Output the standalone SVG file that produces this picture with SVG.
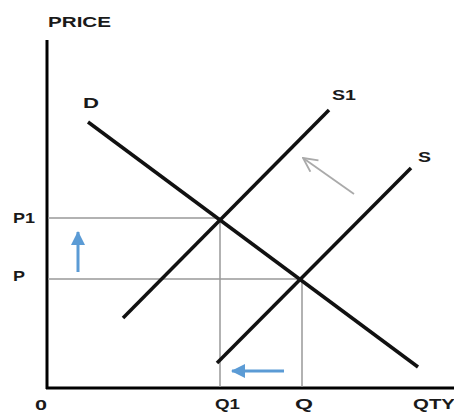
<svg xmlns="http://www.w3.org/2000/svg" width="454" height="414" viewBox="0 0 454 414">
<defs>
<style>
.lbl{font-family:"Liberation Sans",Arial,sans-serif;font-weight:bold;font-size:15px;fill:#1a1a1a;}
.axis{stroke:#000;stroke-width:3;fill:none;}
.curve{stroke:#111;stroke-width:3.5;fill:none;stroke-linecap:butt;}
.guide{stroke:#999;stroke-width:1.5;fill:none;}
.blue{stroke:#5b9bd5;stroke-width:3;fill:none;}
</style>
<marker id="bh" markerWidth="14" markerHeight="14" refX="13" refY="7" orient="auto" markerUnits="userSpaceOnUse" viewBox="0 0 14 14">
<path d="M0,0 L14,7 L0,14 Z" fill="#5b9bd5"/>
</marker>
<marker id="gh" markerWidth="16" markerHeight="16" refX="15" refY="8" orient="auto" markerUnits="userSpaceOnUse" viewBox="0 0 16 16">
<path d="M1,1 L15,8 L1,15" fill="none" stroke="#aaa" stroke-width="1.8"/>
</marker>
</defs>
<rect width="454" height="414" fill="#fff"/>
<g id="axes">
<line class="axis" x1="47" y1="40" x2="47" y2="389"/>
<line class="axis" x1="46" y1="388" x2="454" y2="388"/>
<text class="lbl" x="48" y="27" textLength="63" lengthAdjust="spacingAndGlyphs">PRICE</text>
<text class="lbl" x="35" y="410" textLength="12" lengthAdjust="spacingAndGlyphs">0</text>
<text class="lbl" x="413" y="409" textLength="42" lengthAdjust="spacingAndGlyphs">QTY</text>
</g>
<g id="connectors">
<line class="guide" x1="48" y1="218" x2="220" y2="218"/>
<line class="guide" x1="48" y1="279" x2="300" y2="279"/>
<line class="guide" x1="220" y1="218" x2="220" y2="387"/>
<line class="guide" x1="302" y1="279" x2="302" y2="387"/>
<line x1="354" y1="194" x2="303" y2="158" stroke="#aaa" stroke-width="1.8" marker-end="url(#gh)"/>
<line class="blue" x1="78" y1="272" x2="78" y2="232" marker-end="url(#bh)"/>
<line class="blue" x1="284" y1="371" x2="232" y2="371" marker-end="url(#bh)"/>
</g>
<g id="demand-D">
<line class="curve" x1="88" y1="122" x2="418" y2="367"/>
<text class="lbl" x="83" y="108" textLength="16" lengthAdjust="spacingAndGlyphs">D</text>
</g>
<g id="supply-S1">
<line class="curve" x1="123" y1="318" x2="329" y2="110"/>
<text class="lbl" x="332" y="100" textLength="24" lengthAdjust="spacingAndGlyphs">S1</text>
</g>
<g id="supply-S">
<line class="curve" x1="217" y1="363" x2="411" y2="168"/>
<text class="lbl" x="418" y="162" textLength="13" lengthAdjust="spacingAndGlyphs">S</text>
</g>
<g id="labels-price">
<text class="lbl" x="13" y="223" textLength="22" lengthAdjust="spacingAndGlyphs">P1</text>
<text class="lbl" x="13" y="281" textLength="12" lengthAdjust="spacingAndGlyphs">P</text>
</g>
<g id="labels-qty">
<text class="lbl" x="215" y="409" textLength="25" lengthAdjust="spacingAndGlyphs">Q1</text>
<text class="lbl" x="295" y="409" textLength="18" lengthAdjust="spacingAndGlyphs">Q</text>
</g>
</svg>
